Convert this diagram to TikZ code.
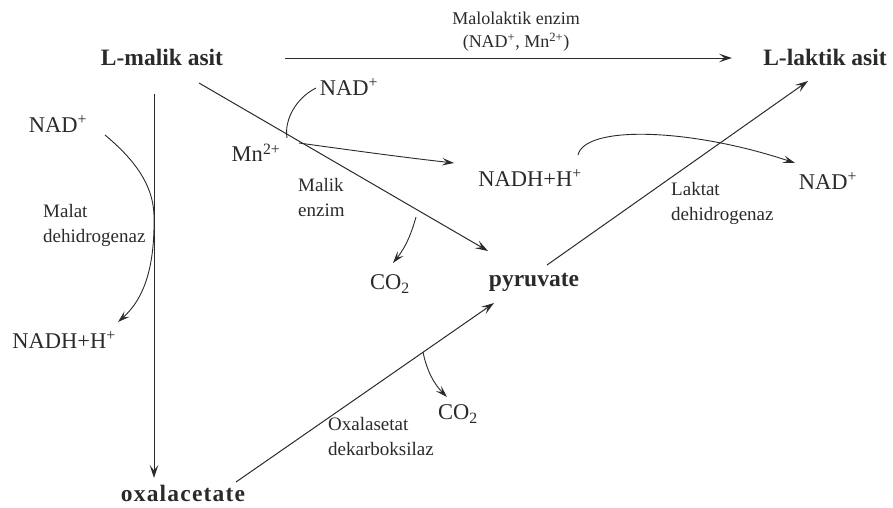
\documentclass[tikz,border=0pt]{standalone}
\usepackage{fontspec}
\setmainfont{Liberation Serif}
\usetikzlibrary{arrows.meta}
\definecolor{ink}{HTML}{2A2A2A}
\begin{document}
\begin{tikzpicture}[x=1pt,y=-1pt,
  every node/.style={inner sep=0pt,text=ink},
  chem/.style={font=\fontsize{22.5}{26}\selectfont},
  bold/.style={font=\fontsize{23.5}{27}\selectfont\bfseries},
  enz/.style={font=\fontsize{19}{25}\selectfont,align=left,anchor=west},
  top/.style={font=\fontsize{18}{25}\selectfont},
  rxn/.style={draw=ink,line width=1pt,-{Stealth[length=13pt,width=8.5pt,inset=5.5pt]}},
  side/.style={draw=ink,line width=0.9pt,-{Stealth[length=12pt,width=7.5pt,inset=5pt]}},
  plain/.style={draw=ink,line width=0.9pt}]
\useasboundingbox (0,0) rectangle (893,507);
% main compounds
\node[bold] (malik) at (162,57) {L-malik asit};
\node[bold] (laktik) at (825,57) {L-laktik asit};
\node[bold] (pyr) at (534,282) {pyruvate};
\node[bold] (oxal) at (183,493) {o\kern1.2pt x\kern1.2pt a\kern1.2pt l\kern1.2pt a\kern1.2pt c\kern1.2pt e\kern1.2pt t\kern1.2pt a\kern1.2pt t\kern1.2pt e};
% cofactors
\node[chem] (nad1) at (58,124) {NAD\textsuperscript{+}};
\node[chem] (nadh1) at (64,340) {NADH+H\textsuperscript{+}};
\node[chem] (nad2) at (349,87) {NAD\textsuperscript{+}};
\node[chem] (mn) at (256,153) {Mn\textsuperscript{2+}};
\node[chem] (nadh2) at (530,178) {NADH+H\textsuperscript{+}};
\node[chem] (nad3) at (828,181) {NAD\textsuperscript{+}};
\node[chem] (co2a) at (390,284) {CO\textsubscript{2}};
\node[chem] (co2b) at (458,414) {CO\textsubscript{2}};
% enzymes
\node[top] (mle) at (516,18) {Malolaktik enzim};
\node[top] (mlec) at (516,42) {(NAD\textsuperscript{+}, Mn\textsuperscript{2+})};
\node[enz] (mdh) at (43,225) {Malat\\dehidrogenaz};
\node[enz] (me) at (298,197) {Malik\\enzim};
\node[enz] (ldh) at (671,203) {Laktat\\dehidrogenaz};
\node[enz] (oad) at (328,436) {Oxalasetat\\dekarboksilaz};
% connector end points
\coordinate (mlS) at (285,58);  \coordinate (mlE) at (732,58);
\coordinate (vS) at (154,94);   \coordinate (vE) at (154,478);
\coordinate (meS) at (199,83);  \coordinate (meE) at (488,251);
\coordinate (ldS) at (547,265); \coordinate (ldE) at (808,81);
\coordinate (odS) at (236,482); \coordinate (odE) at (494,303);
\coordinate (mdhT) at (154,215);
\coordinate (meT) at (287,138);
\coordinate (meC) at (416,217);
\coordinate (odC) at (423,352);
% main reactions
\draw[rxn] (mlS) -- (mlE);
\draw[rxn] (vS) -- (vE);
\draw[rxn] (meS) -- (meE);
\draw[rxn] (ldS) -- (ldE);
\draw[rxn] (odS) -- (odE);
% side reactions
\draw[side] ([shift={(47,11)}]nad1.center) .. controls (135,160) and (153,185) .. (mdhT)
   .. controls (155,265) and (145,298) .. ([shift={(54,-18)}]nadh1.center);
\draw[plain] ([shift={(-33,1)}]nad2.center) .. controls (296,98) and (284,120) .. (meT);
\draw[side] (meT) ++(12,5) .. controls (350,150) and (400,157) .. ([shift={(-76,-15)}]nadh2.center);
\draw[side] (meC) .. controls (411,235) and (405,248) .. ([shift={(3,-21)}]co2a.center);
\draw[side] ([shift={(48,-23)}]nadh2.center) .. controls (585,125) and (690,128) .. ([shift={(-33,-18)}]nad3.center);
\draw[side] (odC) .. controls (427,372) and (435,385) .. ([shift={(-11,-17)}]co2b.center);
\end{tikzpicture}
\end{document}
